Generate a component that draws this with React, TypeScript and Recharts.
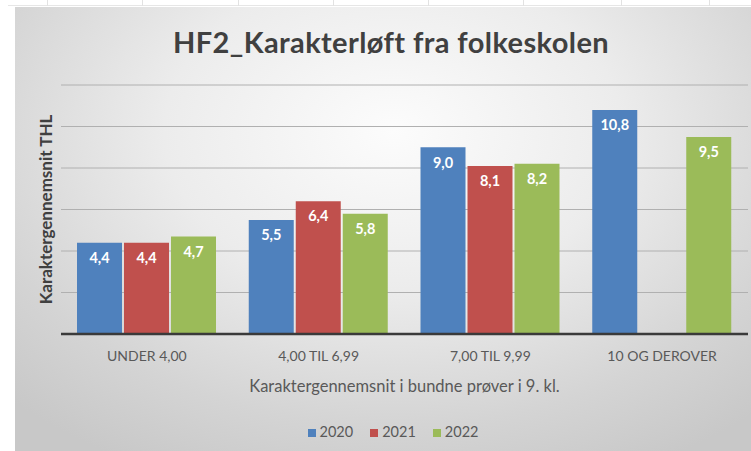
import { BarChart, Bar, XAxis, YAxis, CartesianGrid, Legend, LabelList } from 'recharts'

const categories = ['UNDER 4,00', '4,00 TIL 6,99', '7,00 TIL 9,99', '10 OG DEROVER']
const values2020 = [4.4, 5.5, 9.0, 10.8]
const values2021 = [4.4, 6.4, 8.1, null]
const values2022 = [4.7, 5.8, 8.2, 9.5]
const yTicks = [0, 2, 4, 6, 8, 10, 12]

// faint spreadsheet column marks above the chart object
const sheetColumns = [47, 142, 238, 333, 428, 523, 621, 709]

const data = categories.map((name, i) => ({
  name,
  y2020: values2020[i],
  y2021: values2021[i],
  y2022: values2022[i],
}))

const FONT = 'Lato, "Open Sans", sans-serif'

function fmt(v: unknown): string {
  if (v === null || v === undefined || v === '') return ''
  return Number(v).toFixed(1).replace('.', ',')
}

const labelStyle = { fill: '#ffffff', fontSize: 14.5, fontWeight: 700, fontFamily: FONT }

export default function App() {
  return (
    <div
      style={{
        position: 'fixed',
        left: 0,
        top: 0,
        width: 751,
        height: 451,
        background: '#fff',
        overflow: 'hidden',
        fontFamily: FONT,
      }}
    >
      <div style={{ position: 'absolute', left: 8, right: 0, top: 5, height: 1, background: '#e6e6e6' }} />
      {sheetColumns.map((x) => (
        <div key={x} style={{ position: 'absolute', left: x, top: 0, width: 1, height: 6, background: '#e2e2e2' }} />
      ))}
      <div
        style={{
          position: 'absolute',
          left: 15,
          top: 7,
          right: -20,
          bottom: 0,
          background:
            'radial-gradient(ellipse 72% 85% at 50% 28%, #fcfcfc 0%, #ececec 42%, #d4d4d4 78%, #c8c8c8 100%)',
        }}
      />
      <div
        style={{
          position: 'absolute',
          left: 0,
          width: 782,
          top: 27,
          lineHeight: '29px',
          fontSize: 29,
          letterSpacing: 0.4,
          fontWeight: 700,
          color: '#404040',
          textAlign: 'center',
        }}
      >
        HF2_Karakterløft fra folkeskolen
      </div>
      <div style={{ position: 'absolute', left: 0, top: 0 }}>
        <BarChart
          width={751}
          height={451}
          data={data}
          margin={{ top: 85, right: 3, bottom: 0, left: 31 }}
          barCategoryGap={16}
          barGap={2}
        >
          <CartesianGrid vertical={false} stroke="#b0b0b0" />
          <XAxis
            dataKey="name"
            height={87}
            tickLine={false}
            tickMargin={11}
            axisLine={{ stroke: '#3a3a3a', strokeWidth: 2.5 }}
            tick={{ fontSize: 14, fill: '#595959', fontFamily: FONT }}
            label={{
              value: 'Karaktergennemsnit i bundne prøver i 9. kl.',
              position: 'insideBottom',
              offset: 29,
              fill: '#595959',
              fontSize: 16.5,
              fontFamily: FONT,
            }}
          />
          <YAxis
            width={30}
            domain={[0, 12]}
            ticks={yTicks}
            tickFormatter={() => ''}
            tickLine={false}
            axisLine={false}
            label={{
              value: 'Karaktergennemsnit THL',
              angle: -90,
              position: 'center',
              fill: '#404040',
              fontSize: 17,
              fontWeight: 700,
              fontFamily: FONT,
            }}
          />
          <Legend
            verticalAlign="bottom"
            height={30}
            iconType="square"
            iconSize={8}
            wrapperStyle={{ paddingTop: 2, paddingLeft: 24, boxSizing: 'border-box', fontSize: 14.5, fontFamily: FONT }}
            formatter={(value) => (
              <span style={{ color: '#595959', marginRight: 7 }}>{value}</span>
            )}
          />
          <Bar dataKey="y2020" name="2020" fill="#4f81bd" isAnimationActive={false}>
            <LabelList dataKey="y2020" position="insideTop" offset={10} formatter={fmt} style={labelStyle} />
          </Bar>
          <Bar dataKey="y2021" name="2021" fill="#c0504d" isAnimationActive={false}>
            <LabelList dataKey="y2021" position="insideTop" offset={10} formatter={fmt} style={labelStyle} />
          </Bar>
          <Bar dataKey="y2022" name="2022" fill="#9bbb59" isAnimationActive={false}>
            <LabelList dataKey="y2022" position="insideTop" offset={10} formatter={fmt} style={labelStyle} />
          </Bar>
        </BarChart>
      </div>
    </div>
  )
}
